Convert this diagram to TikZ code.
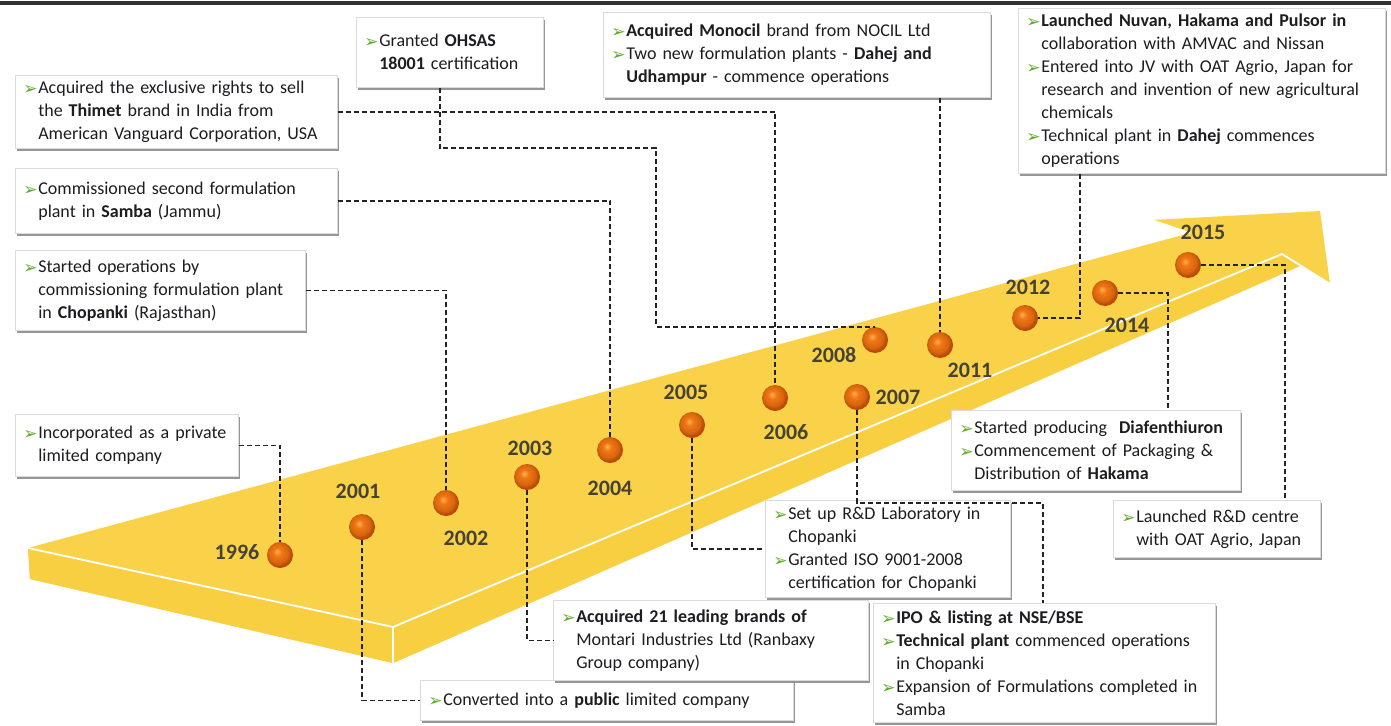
\documentclass[tikz,border=0pt]{standalone}
\usepackage{fontspec}
\setmainfont{Carlito}
\newfontfamily\symf{DejaVu Sans}
\usetikzlibrary{shadows}

\definecolor{slabtop}{RGB}{250,210,74}
\definecolor{slabside}{RGB}{249,207,66}
\definecolor{bgreen}{RGB}{92,172,40}
\definecolor{yrcol}{RGB}{70,66,52}
\definecolor{txt}{RGB}{30,28,32}
\definecolor{orbhi}{RGB}{255,178,92}
\definecolor{orbmid}{RGB}{242,118,18}
\definecolor{orbdark}{RGB}{188,72,4}
\definecolor{dashcol}{RGB}{35,35,35}

\pgfdeclareradialshading{orb}{\pgfpoint{-6bp}{7bp}}{%
  color(0bp)=(orbhi); color(8bp)=(orbmid); color(19bp)=(orbmid!88!black);
  color(25bp)=(orbdark); color(50bp)=(orbdark)}

% green arrowhead bullet and matching hanging indent
\newcommand\bul{\makebox[16pt][l]{\hspace{1pt}\raisebox{-1pt}{\fontsize{17}{17}\symf\color{bgreen}➢}}}
\newcommand\ind{\hspace*{16pt}}

\tikzset{
  box/.style={draw=black!14, line width=0.6pt, fill=white,
    drop shadow={shadow xshift=1.5pt, shadow yshift=-3pt, fill=black!75, opacity=0.55},
    anchor=north west, inner xsep=7pt, inner ysep=0pt, align=left,
    font=\fontsize{18}{23}\selectfont, text=txt},
  yr/.style={font=\fontsize{22}{22}\selectfont\bfseries, text=yrcol, inner sep=0pt},
  orbnode/.style={circle, minimum size=26pt, inner sep=0pt, shade, shading=orb},
  conn/.style={draw=dashcol, line width=1.5pt, dash pattern=on 5pt off 3pt},
  edge line/.style={draw=white, line width=1.8pt, line join=round}
}

\begin{document}
\begin{tikzpicture}[x=1pt,y=-1pt]
\useasboundingbox (0,0) rectangle (1391,725);
\fill[white] (0,0) rectangle (1391,725);
% rule along the top
\fill[black!80] (0,1.5) rectangle (1391,5.5);

% the yellow 3-D arrow
\fill[slabtop] (28,548) -- (1190,233) -- (1152,220) -- (1320,211) -- (1330,284)
  -- (1300,266) -- (393,663) -- (30,579) -- cycle;
\fill[slabside] (28,548) -- (393,627) -- (1282,254) -- (1330,284) -- (1300,266)
  -- (393,663) -- (30,579) -- cycle;
\draw[edge line] (28,548) -- (393,627) -- (1282,254) -- (1330,284);
\draw[edge line] (393,627) -- (393,663);
\draw[edge line, line width=1.4pt] (1152,220) -- (1190,233);

% milestones on the arrow
\node[orbnode] (y1996) at (280,555) {};
\node[orbnode] (y2001) at (362,527) {};
\node[orbnode] (y2002) at (446,503) {};
\node[orbnode] (y2003) at (527,477) {};
\node[orbnode] (y2004) at (610,450) {};
\node[orbnode] (y2005) at (692,425) {};
\node[orbnode] (y2006) at (775,398) {};
\node[orbnode] (y2007) at (857,397) {};
\node[orbnode] (y2008) at (875,340) {};
\node[orbnode] (y2011) at (940,345) {};
\node[orbnode] (y2012) at (1025,318) {};
\node[orbnode] (y2014) at (1105,293) {};
\node[orbnode] (y2015) at (1188,265) {};

\node[yr] (l1996) at (237,552) {1996};
\node[yr] (l2001) at (358,491) {2001};
\node[yr] (l2002) at (466,538) {2002};
\node[yr] (l2003) at (530,448) {2003};
\node[yr] (l2004) at (610,488) {2004};
\node[yr] (l2005) at (686,392) {2005};
\node[yr] (l2006) at (786,432) {2006};
\node[yr] (l2007) at (898,397) {2007};
\node[yr] (l2008) at (834,355) {2008};
\node[yr] (l2011) at (970,370) {2011};
\node[yr] (l2012) at (1028,287) {2012};
\node[yr] (l2014) at (1127,325) {2014};
\node[yr] (l2015) at (1203,232) {2015};

% event boxes
\node[box, text width=209pt, minimum height=62pt] (b1) at (15,414)
  {\bul Incorporated as a private\\\ind limited company};
\node[box, text width=276pt, minimum height=80pt] (b2) at (15,250)
  {\bul Started operations by\\\ind commissioning formulation plant\\\ind in \textbf{Chopanki} (Rajasthan)};
\node[box, text width=308pt, minimum height=65pt] (b3) at (15,168)
  {\bul Commissioned second formulation\\\ind plant in \textbf{Samba} (Jammu)};
\node[box, text width=308pt, minimum height=73pt] (b4) at (15,75)
  {\bul Acquired the exclusive rights to sell\\\ind the \textbf{Thimet} brand in India from\\\ind American Vanguard Corporation, USA};
\node[box, text width=173pt, minimum height=70pt] (b5) at (356,17)
  {\bul Granted \textbf{OHSAS}\\\ind \textbf{18001} certification\\[-4pt]};
\node[box, text width=373pt, minimum height=85pt] (b6) at (603,12)
  {\bul \textbf{Acquired Monocil} brand from NOCIL Ltd\\\bul Two new formulation plants - \textbf{Dahej and}\\\ind \textbf{Udhampur} - commence operations};
\node[box, text width=353pt, minimum height=165pt] (b7) at (1018,8)
  {\bul \textbf{Launched Nuvan, Hakama and Pulsor in}\\\ind collaboration with AMVAC and Nissan\\\bul Entered into JV with OAT Agrio, Japan for\\\ind research and invention of new agricultural\\\ind chemicals\\\bul Technical plant in \textbf{Dahej} commences\\\ind operations};
\node[box, text width=275pt, minimum height=80pt] (b8) at (951,410)
  {\bul Started producing\ \ \textbf{Diafenthiuron}\\\bul Commencement of Packaging \&\\\ind Distribution of \textbf{Hakama}};
\node[box, text width=193pt, minimum height=57pt] (b9) at (1113,500)
  {\bul Launched R\&D centre\\\ind with OAT Agrio, Japan};
\node[box, text width=231pt, minimum height=97pt] (b10) at (765,500)
  {\bul Set up R\&D Laboratory in\\\ind Chopanki\\\bul Granted ISO 9001-2008\\\ind certification for Chopanki};
\node[box, text width=359pt, minimum height=40pt] (b13) at (420,680)
  {\bul Converted into a \textbf{public} limited company};
\node[box, text width=301pt, minimum height=80pt] (b12) at (553,600)
  {\bul \textbf{Acquired 21 leading brands of}\\\ind Montari Industries Ltd (Ranbaxy\\\ind Group company)};
\node[box, text width=328pt, minimum height=119pt] (b11) at (873,603)
  {\bul \textbf{IPO \& listing at NSE/BSE}\\\bul \textbf{Technical plant} commenced operations\\\ind in Chopanki\\\bul Expansion of Formulations completed in\\\ind Samba};

% turning points of the longer leaders
\coordinate (t1) at (656,148);
\coordinate (t2) at (1043,503);
\coordinate (t3) at (1080,318);
\coordinate (t4) at (1168,293);
\coordinate (t5) at (1285,265);

% dashed leaders from events to years
\draw[conn] (b1.east) -| (y1996.north);
\draw[conn] (y2001.south) |- (b13.west);
\draw[conn] (b2.east) -| (y2002.north);
\draw[conn] (y2003.south) |- (b12.west);
\draw[conn] (b3.east) -| (y2004.north);
\draw[conn] (y2005.south) |- (b10.west);
\draw[conn] (b4.east) -| (y2006.north);
\draw[conn] (y2007.south) |- (t2) -- (t2 |- b11.north);
\draw[conn] ([xshift=-10pt]b5.south) |- (t1) |- (y2008.north);
\draw[conn] (y2011.north |- b6.south) -- (y2011.north);
\draw[conn] (t3 |- b7.south) -- (t3) -- (y2012.east);
\draw[conn] (y2014.east) -- (t4) -- (t4 |- b8.north);
\draw[conn] (y2015.east) -- (t5) -- (t5 |- b9.north);
\end{tikzpicture}
\end{document}
